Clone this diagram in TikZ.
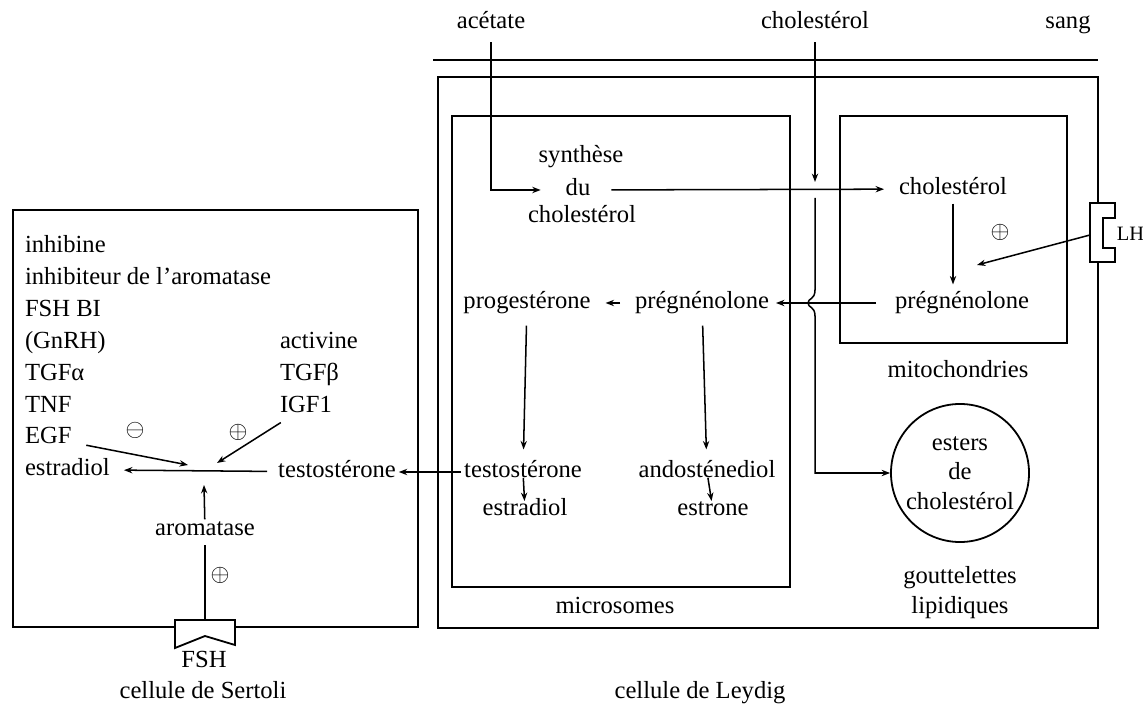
\documentclass[tikz,border=0pt]{standalone}
\usepackage{fontspec}
\setmainfont{Liberation Serif}
\usepackage{tikz}
\usetikzlibrary{positioning, arrows.meta}

\begin{document}
\begin{tikzpicture}[x=0.025cm, y=-0.025cm, line width=0.45mm,
  lbl/.style={font=\fontsize{17.5}{21}\selectfont, inner sep=1.5pt, text height=2.1ex, text depth=0.25ex},
  list/.style={lbl, below=0.795cm of #1.west, anchor=west},
  sign/.style={font=\fontsize{19}{19}\selectfont, inner sep=0pt},
  arr/.style={-{Stealth[length=6pt,width=4.5pt]}, line width=0.38mm}]

\useasboundingbox (0,0) rectangle (1143,707);

% membranes et compartiments
\draw (433,60) -- (1098,60);
\draw (438,77) rectangle (1098,628);
\draw (452,116) rectangle (790,587);
\draw (840,116) rectangle (1067,343);
\draw (13,210) rectangle (418,627);

% recepteurs
\draw[fill=white] (175,620) -- (235,620) -- (235,645) -- (205,636) -- (175,648) -- cycle;
\draw[fill=white] (1090,203) -- (1115,203) -- (1115,218) -- (1103,218) -- (1103,248)
  -- (1115,248) -- (1115,262) -- (1090,262) -- cycle;
\coordinate (fshr) at (205,620);
\coordinate (lhr) at (1090,235);

% sang
\node[lbl] (acetate) at (491,23) {acétate};
\node[lbl] (cholsang) at (815,23) {cholestérol};
\node[lbl] (sang) at (1068,23) {sang};

% cellule de Leydig
\node[lbl] (synA) at (581,157) {synthèse};
\node[lbl] (du) at (578,190) {du};
\node[lbl] (synC) at (582,217) {cholestérol};
\node[lbl] (cholmito) at (953,189) {cholestérol};
\node[lbl] (pregmito) at (962,303) {prégnénolone};
\node[lbl] (pregmic) at (702,303) {prégnénolone};
\node[lbl] (progest) at (527,303) {progestérone};
\node[lbl] (testoL) at (523,472) {testostérone};
\node[lbl] (estradL) at (525,510) {estradiol};
\node[lbl] (andost) at (707,472) {andosténediol};
\node[lbl] (estrone) at (713,510) {estrone};
\node[circle, draw, minimum size=3.45cm, align=center, inner sep=0pt,
  font=\fontsize{17.5}{21}\selectfont] (esters) at (960,473) {esters\\de\\cholestérol};
\node[anchor=west, inner sep=0pt, font=\fontsize{14.5}{14.5}\selectfont] (lh) at (1116,234) {LH};
\node[sign] (plusLH) at (1000,232) {$\oplus$};

\node[lbl] (mito) at (958,372) {mitochondries};
\node[lbl] (micro) at (615,608) {microsomes};
\node[lbl] (goutt) at (960,578) {gouttelettes};
\node[lbl] (lipid) at (960,608) {lipidiques};
\node[lbl] (leydig) at (700,693) {cellule de Leydig};

\coordinate (cholin) at (815,182);
\coordinate (cholout) at (815,198);
\coordinate (lhtip) at (977,265);

\draw[arr, shorten <=0.22cm, shorten >=0.55cm] (acetate) |- (du);
\draw[arr, shorten <=0.45cm, shorten >=0.3cm] (du) -- (cholmito);
\draw[arr, shorten <=0.22cm] (cholsang) -- (cholin);
\draw[arr] (cholout) -- (815,290) .. controls (815,300) and (808,298) .. (808,303)
  .. controls (808,308) and (815,306) .. (815,316) -- (815,473) -- (esters);
\draw[arr, shorten <=0.1cm, shorten >=0.2cm] (cholmito) -- (cholmito |- pregmito.north);
\draw[arr] (lhr) -- (lhtip);
\draw[arr, shorten <=0.4cm, shorten >=0.1cm] (pregmito) -- (pregmic);
\draw[arr, shorten <=0.3cm, shorten >=0.3cm] (pregmic) -- (progest);
\draw[arr, shorten <=0.3cm, shorten >=0.3cm] (progest) -- (testoL);
\draw[arr, shorten <=0.3cm, shorten >=0.3cm] (pregmic) -- (andost);
\draw[arr, shorten <=-0.12cm, shorten >=-0.04cm] (testoL) -- (estradL);
\draw[arr, shorten <=-0.12cm, shorten >=-0.04cm] (andost) -- (estrone);

% cellule de Sertoli
\node[lbl, anchor=west] (inhib) at (22,247) {inhibine};
\node[list=inhib] (inhar) {inhibiteur de l'aromatase};
\node[list=inhar] (fshbi) {FSH BI};
\node[list=fshbi] (gnrh) {(GnRH)};
\node[list=gnrh] (tgfa) {TGFα};
\node[list=tgfa] (tnf) {TNF};
\node[list=tnf] (egf) {EGF};
\node[list=egf] (estradS) {estradiol};
\node[lbl, anchor=west] (activ) at (277,343) {activine};
\node[list=activ] (tgfb) {TGFβ};
\node[list=tgfb] (igf) {IGF1};
\node[lbl] (testoS) at (337,472) {testostérone};
\node[lbl] (arom) at (205,530) {aromatase};
\node[sign] (minus) at (135,430) {$\ominus$};
\node[sign] (plusS) at (238,432) {$\oplus$};
\node[sign] (plusF) at (220,575) {$\oplus$};
\node[lbl] (fsh) at (204,662) {FSH};
\node[lbl] (sertoli) at (203,693) {cellule de Sertoli};

\coordinate (egfend) at (188,465);
\coordinate (igfend) at (217,463);
\coordinate (junc) at (204,485);

\draw[arr] (testoL) -- (testoS);
\draw[arr, shorten <=0.2cm, shorten >=0.28cm] (testoS) -- (estradS);
\draw[arr, shorten <=0.3cm] (egf) -- (egfend);
\draw[arr, shorten <=0.25cm] (igf) -- (igfend);
\draw[arr] (arom) -- (junc);
\draw[shorten >=0.12cm] (fshr) -- (arom);
\end{tikzpicture}
\end{document}
